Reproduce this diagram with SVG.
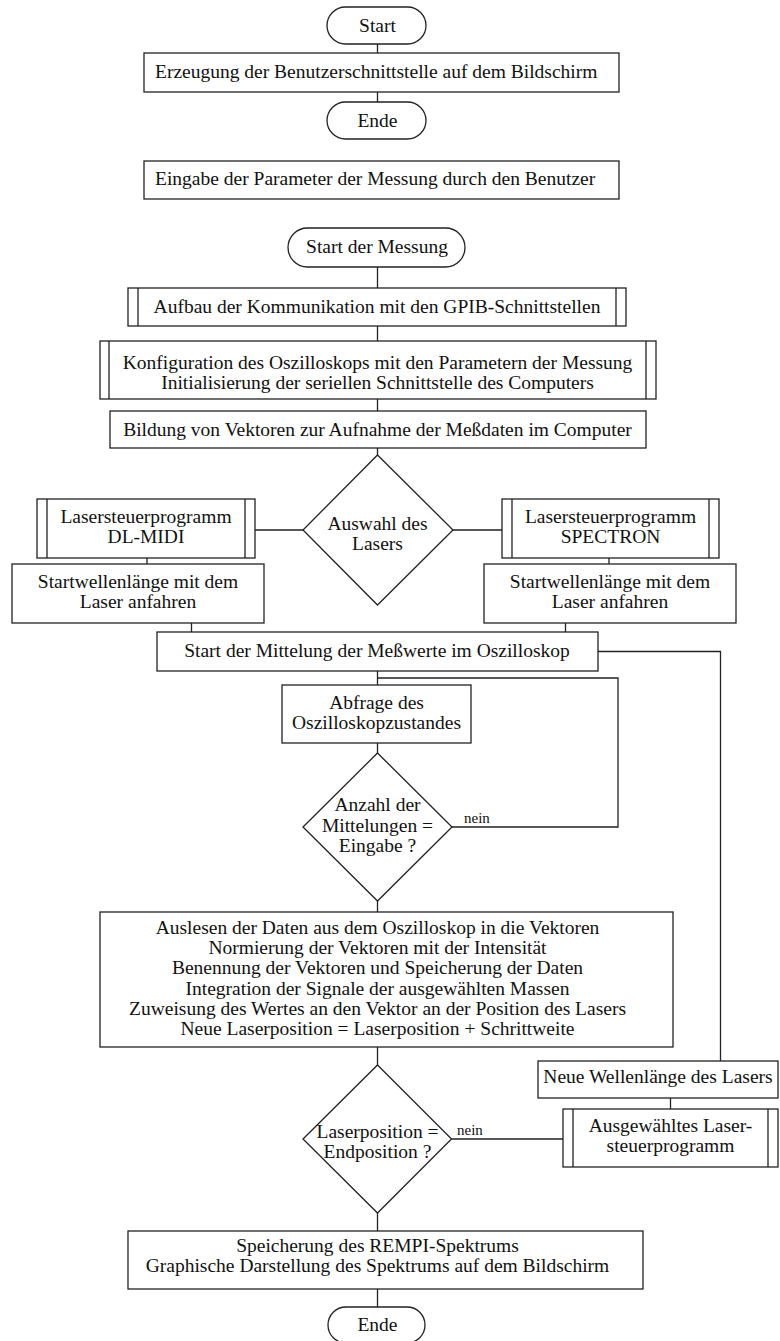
<svg xmlns="http://www.w3.org/2000/svg" width="780" height="1341" viewBox="0 0 780 1341">
<style>
.s{fill:#fff;stroke:#222;stroke-width:1.3}
.l{fill:none;stroke:#222;stroke-width:1.3}
text{font-family:"Liberation Serif","Times New Roman",serif;font-size:19.5px;fill:#111;text-anchor:middle}
.lt{text-anchor:start}
.sm{font-size:15px;text-anchor:start}
</style>
<rect width="780" height="1341" fill="#fff"/>
<g id="connectors">
<path class="l" d="M377.5 44V53M377.5 92V102"/>
<path class="l" d="M377.5 267V288M377.5 326V341M377.5 399V411M377.5 448V455"/>
<path class="l" d="M255 530H303M453 530H502M147 558V564M609 558V564M191.5 623V632M565.5 623V632"/>
<path class="l" d="M598 651.5H720.5V1061"/>
<path class="l" d="M377.5 671V685M377.5 678H618V827H452M377.5 743V753M377.5 901V912"/>
<path class="l" d="M377.5 1047V1065M451.5 1139H563M670.5 1098V1109M377.5 1213V1231M377.5 1289V1307"/>
</g>
<g id="n_start"><rect class="s" x="327" y="7" width="99" height="37" rx="18.5"/><text x="377.5" y="32">Start</text></g>
<g id="n_erzeugung"><rect class="s" x="144" y="53" width="475" height="39"/><text class="lt" x="155" y="78">Erzeugung der Benutzerschnittstelle auf dem Bildschirm</text></g>
<g id="n_ende1"><rect class="s" x="327" y="102" width="99" height="37" rx="18.5"/><text x="377.5" y="126.5">Ende</text></g>
<g id="n_eingabe"><rect class="s" x="144" y="161" width="475" height="38"/><text class="lt" x="155" y="185">Eingabe der Parameter der Messung durch den Benutzer</text></g>
<g id="n_startmessung"><rect class="s" x="288" y="228" width="177" height="39" rx="19.5"/><text x="377" y="253">Start der Messung</text></g>
<g id="n_aufbau"><rect class="s" x="128" y="288" width="498" height="38"/><path class="l" d="M138 288V326M616 288V326"/><text x="377" y="312.5">Aufbau der Kommunikation mit den GPIB-Schnittstellen</text></g>
<g id="n_konfig"><rect class="s" x="100" y="341" width="556" height="58"/><path class="l" d="M109 341V399M646 341V399"/><text x="377.5" y="368.5">Konfiguration des Oszilloskops mit den Parametern der Messung</text><text x="377.5" y="389">Initialisierung der seriellen Schnittstelle des Computers</text></g>
<g id="n_bildung"><rect class="s" x="110" y="411" width="536" height="37"/><text x="377.5" y="435.5">Bildung von Vektoren zur Aufnahme der Meßdaten im Computer</text></g>
<g id="n_auswahl"><path class="s" d="M377.5 455L453 530L377.5 605L303 530Z"/><text x="377.5" y="529.5">Auswahl des</text><text x="377.5" y="549.5">Lasers</text></g>
<g id="n_dlmidi"><rect class="s" x="37" y="499" width="218" height="59"/><path class="l" d="M47 499V558M245 499V558"/><text x="146" y="523">Lasersteuerprogramm</text><text x="146" y="543">DL-MIDI</text></g>
<g id="n_spectron"><rect class="s" x="502" y="499" width="217" height="59"/><path class="l" d="M512 499V558M709 499V558"/><text x="610.5" y="523">Lasersteuerprogramm</text><text x="610.5" y="543">SPECTRON</text></g>
<g id="n_startwl1"><rect class="s" x="12" y="564" width="252" height="59"/><text x="138" y="588">Startwellenlänge mit dem</text><text x="138" y="608">Laser anfahren</text></g>
<g id="n_startwl2"><rect class="s" x="484" y="564" width="252" height="59"/><text x="610" y="588">Startwellenlänge mit dem</text><text x="610" y="608">Laser anfahren</text></g>
<g id="n_mittelung"><rect class="s" x="157" y="632" width="441" height="39"/><text x="377" y="657">Start der Mittelung der Meßwerte im Oszilloskop</text></g>
<g id="n_abfrage"><rect class="s" x="282" y="685" width="189" height="58"/><text x="376.5" y="708.5">Abfrage des</text><text x="376.5" y="728.5">Oszilloskopzustandes</text></g>
<g id="n_anzahl"><path class="s" d="M377.5 753L452 827L377.5 901L303 827Z"/><text x="377.5" y="811">Anzahl der</text><text x="377.5" y="831.5">Mittelungen =</text><text x="377.5" y="851.5">Eingabe ?</text><text class="sm" x="464" y="823">nein</text></g>
<g id="n_auslesen"><rect class="s" x="100" y="912" width="573" height="135"/>
<text x="377.5" y="934">Auslesen der Daten aus dem Oszilloskop in die Vektoren</text>
<text x="377.5" y="954.2">Normierung der Vektoren mit der Intensität</text>
<text x="377.5" y="974.4">Benennung der Vektoren und Speicherung der Daten</text>
<text x="377.5" y="994.6">Integration der Signale der ausgewählten Massen</text>
<text x="377.5" y="1014.8">Zuweisung des Wertes an den Vektor an der Position des Lasers</text>
<text x="377.5" y="1035">Neue Laserposition = Laserposition + Schrittweite</text></g>
<g id="n_laserpos"><path class="s" d="M377.5 1065L451.5 1139L377.5 1213L303 1139Z"/><text x="377.5" y="1138">Laserposition =</text><text x="377.5" y="1157.5">Endposition ?</text><text class="sm" x="457" y="1135">nein</text></g>
<g id="n_neuewl"><rect class="s" x="538" y="1061" width="240" height="37"/><text x="658" y="1083">Neue Wellenlänge des Lasers</text></g>
<g id="n_ausgew"><rect class="s" x="563" y="1109" width="215" height="58"/><path class="l" d="M573 1109V1167M768 1109V1167"/><text x="670.5" y="1132">Ausgewähltes Laser-</text><text x="670.5" y="1152">steuerprogramm</text></g>
<g id="n_speicherung"><rect class="s" x="128" y="1231" width="515" height="58"/><text x="377.5" y="1252">Speicherung des REMPI-Spektrums</text><text x="377.5" y="1272">Graphische Darstellung des Spektrums auf dem Bildschirm</text></g>
<g id="n_ende2"><rect class="s" x="328" y="1307" width="97" height="36" rx="18"/><text x="377.5" y="1331">Ende</text></g>
</svg>
